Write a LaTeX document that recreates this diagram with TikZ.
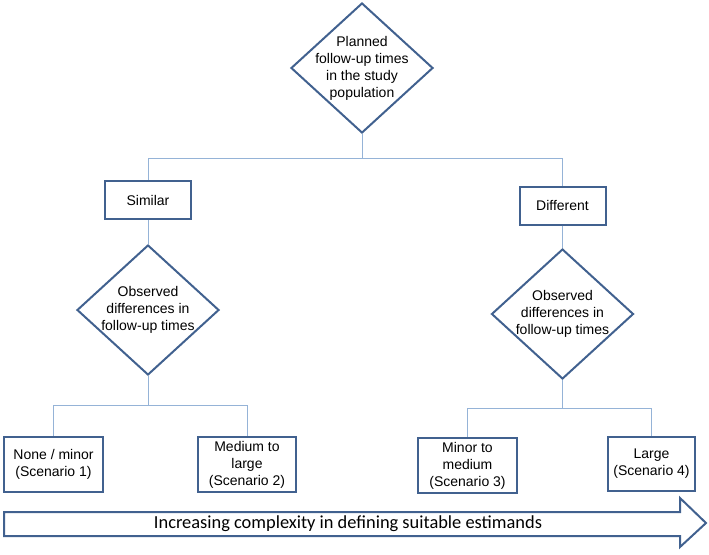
\documentclass[tikz,border=0pt]{standalone}
\usepackage{fontspec}
\setmainfont{Liberation Sans}
\newfontfamily\arrowfont{Carlito}
\usetikzlibrary{shapes.geometric}
\definecolor{boxblue}{HTML}{41618F}
\definecolor{linkblue}{HTML}{95B3D7}
\begin{document}
\begin{tikzpicture}[x=1pt,y=-1pt,
	choice/.style={draw=boxblue,line width=2pt,minimum width=86pt,minimum height=38pt,inner sep=2pt,font=\fontsize{14}{17}\selectfont},
	outcome/.style={draw=boxblue,line width=2pt,minimum height=55pt,inner sep=2pt,align=center,font=\fontsize{14}{17}\selectfont},
	decision/.style={draw=boxblue,line width=2pt,diamond,minimum width=142pt,minimum height=130pt,inner sep=0pt},
	dtext/.style={align=center,font=\fontsize{14}{17}\selectfont},
	link/.style={draw=linkblue,line width=1pt}]

	\useasboundingbox (0,0) rectangle (709,554);

	% Planned follow-up
	\node[decision] (plan) at (362,68) {};
	\node[dtext] (plantext) at (plan) {Planned\\follow-up times\\in the study\\population};

	% Similar / Different
	\node[choice] (similar) at (148,200) {Similar};
	\node[choice] (different) at (562.5,205.5) {Different};

	% Observed differences
	\node[decision] (obsleft) at (148,310) {};
	\node[dtext] (obslefttext) at (obsleft) {Observed\\differences in\\follow-up times};
	\node[decision] (obsright) at (562.5,314) {};
	\node[dtext] (obsrighttext) at (obsright) {Observed\\differences in\\follow-up times};

	% Scenarios
	\node[outcome,minimum width=99pt] (none) at (53.5,464.5) {None / minor\\(Scenario 1)};
	\node[outcome,minimum width=98pt] (medlarge) at (247,464.5) {Medium to\\large\\(Scenario 2)};
	\node[outcome,minimum width=99pt] (minmed) at (467.5,465.5) {Minor to\\medium\\(Scenario 3)};
	\node[outcome,minimum width=87pt,minimum height=54pt] (large) at (651.5,464) {Large\\(Scenario 4)};

	% Connectors
	\coordinate (splittop) at (362,158);
	\coordinate (splitleft) at (148,405);
	\coordinate (splitright) at (562.5,408);
	\draw[link] (plan.south) -- (splittop);
	\draw[link] (splittop) -| (similar.north);
	\draw[link] (splittop) -| (different.north);
	\draw[link] (similar.south) -- (obsleft.north);
	\draw[link] (different.south) -- (obsright.north);
	\draw[link] (obsleft.south) -- (splitleft);
	\draw[link] (splitleft) -| (none.north);
	\draw[link] (splitleft) -| (medlarge.north);
	\draw[link] (obsright.south) -- (splitright);
	\draw[link] (splitright) -| (minmed.north);
	\draw[link] (splitright) -| (large.north);

	% Complexity arrow
	\draw[draw=boxblue,line width=2pt,line join=miter] (4,512) -- (680,512) -- (680,498) -- (706,523) -- (680,547) -- (680,536) -- (4,536) -- cycle;
	\node[font=\arrowfont\fontsize{18.4}{21}\selectfont] (complexity) at (348,524) {Increasing complexity in defining suitable estimands};

\end{tikzpicture}
\end{document}
